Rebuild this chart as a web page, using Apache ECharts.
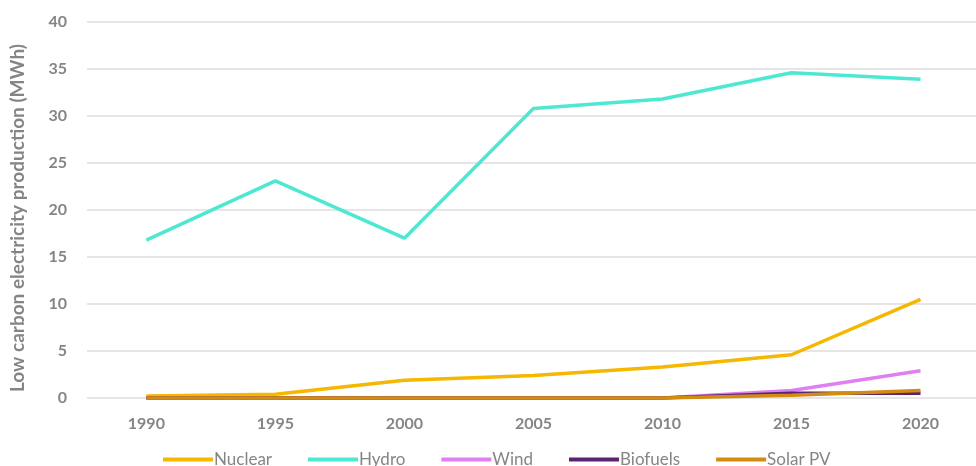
<!DOCTYPE html>
<html><head><meta charset="utf-8">
<script src="https://cdn.jsdelivr.net/npm/echarts@6/dist/echarts.min.js"></script>
<style>html,body{margin:0;padding:0;background:#fff}#c{width:976px;height:466px}</style>
</head><body><div id="c"></div>
<script>
const years = [1990, 1995, 2000, 2005, 2010, 2015, 2020];
const nuclear = [0.2, 0.4, 1.9, 2.4, 3.3, 4.6, 10.5];
const hydro = [16.8, 23.1, 17.0, 30.8, 31.8, 34.6, 33.9];
const wind = [0, 0, 0, 0, 0, 0.8, 2.9];
const biofuels = [0, 0, 0, 0, 0, 0.5, 0.5];
const solarPV = [0, 0, 0, 0, 0, 0.3, 0.8];
const seriesNames = ['Nuclear','Hydro','Wind','Biofuels','Solar PV'];
const colors = ['#f5b700','#4ee8d2','#df80f2','#5a2470','#d38c12'];
const dataSets = [nuclear, hydro, wind, biofuels, solarPV];

const chart = echarts.init(document.getElementById('c'));
const font = 'Lato, "Open Sans", sans-serif';
chart.setOption({
  animation: false,
  textStyle: {fontFamily: font},
  grid: {left: 86, top: 22, right: 0, height: 376},
  legend: {
    bottom: -7, left: 158, itemWidth: 50, itemHeight: 4, itemGap: 36,
    icon: 'rect',
    textStyle: {color: '#858585', fontSize: 17, fontFamily: font, padding: [0,0,0,-4]},
    data: seriesNames
  },
  xAxis: {
    type: 'value', min: 1987.70, max: 2022.15,
    axisLine: {show: false}, axisTick: {show: false}, splitLine: {show: false},
    axisLabel: {color: '#858585', fontSize: 16, fontWeight: 'bold', margin: 18,
      customValues: years, formatter: v => String(v)}
  },
  yAxis: {
    type: 'value', min: 0, max: 40, interval: 5,
    name: 'Low carbon electricity production (MWh)',
    nameLocation: 'middle', nameGap: 60, nameRotate: 90,
    nameTextStyle: {color: '#858585', fontSize: 19, fontWeight: 'bold', padding: [0,16,0,0]},
    axisLine: {show: false}, axisTick: {show: false},
    axisLabel: {color: '#858585', fontSize: 16, fontWeight: 'bold', margin: 20},
    splitLine: {lineStyle: {color: '#e6e6e6', width: 2}}
  },
  series: seriesNames.map((n, i) => ({
    name: n, type: 'line', data: years.map((y, j) => [y, dataSets[i][j]]), showSymbol: false,
    lineStyle: {width: 3.5, color: colors[i]}, itemStyle: {color: colors[i]}
  }))
});
</script></body></html>
